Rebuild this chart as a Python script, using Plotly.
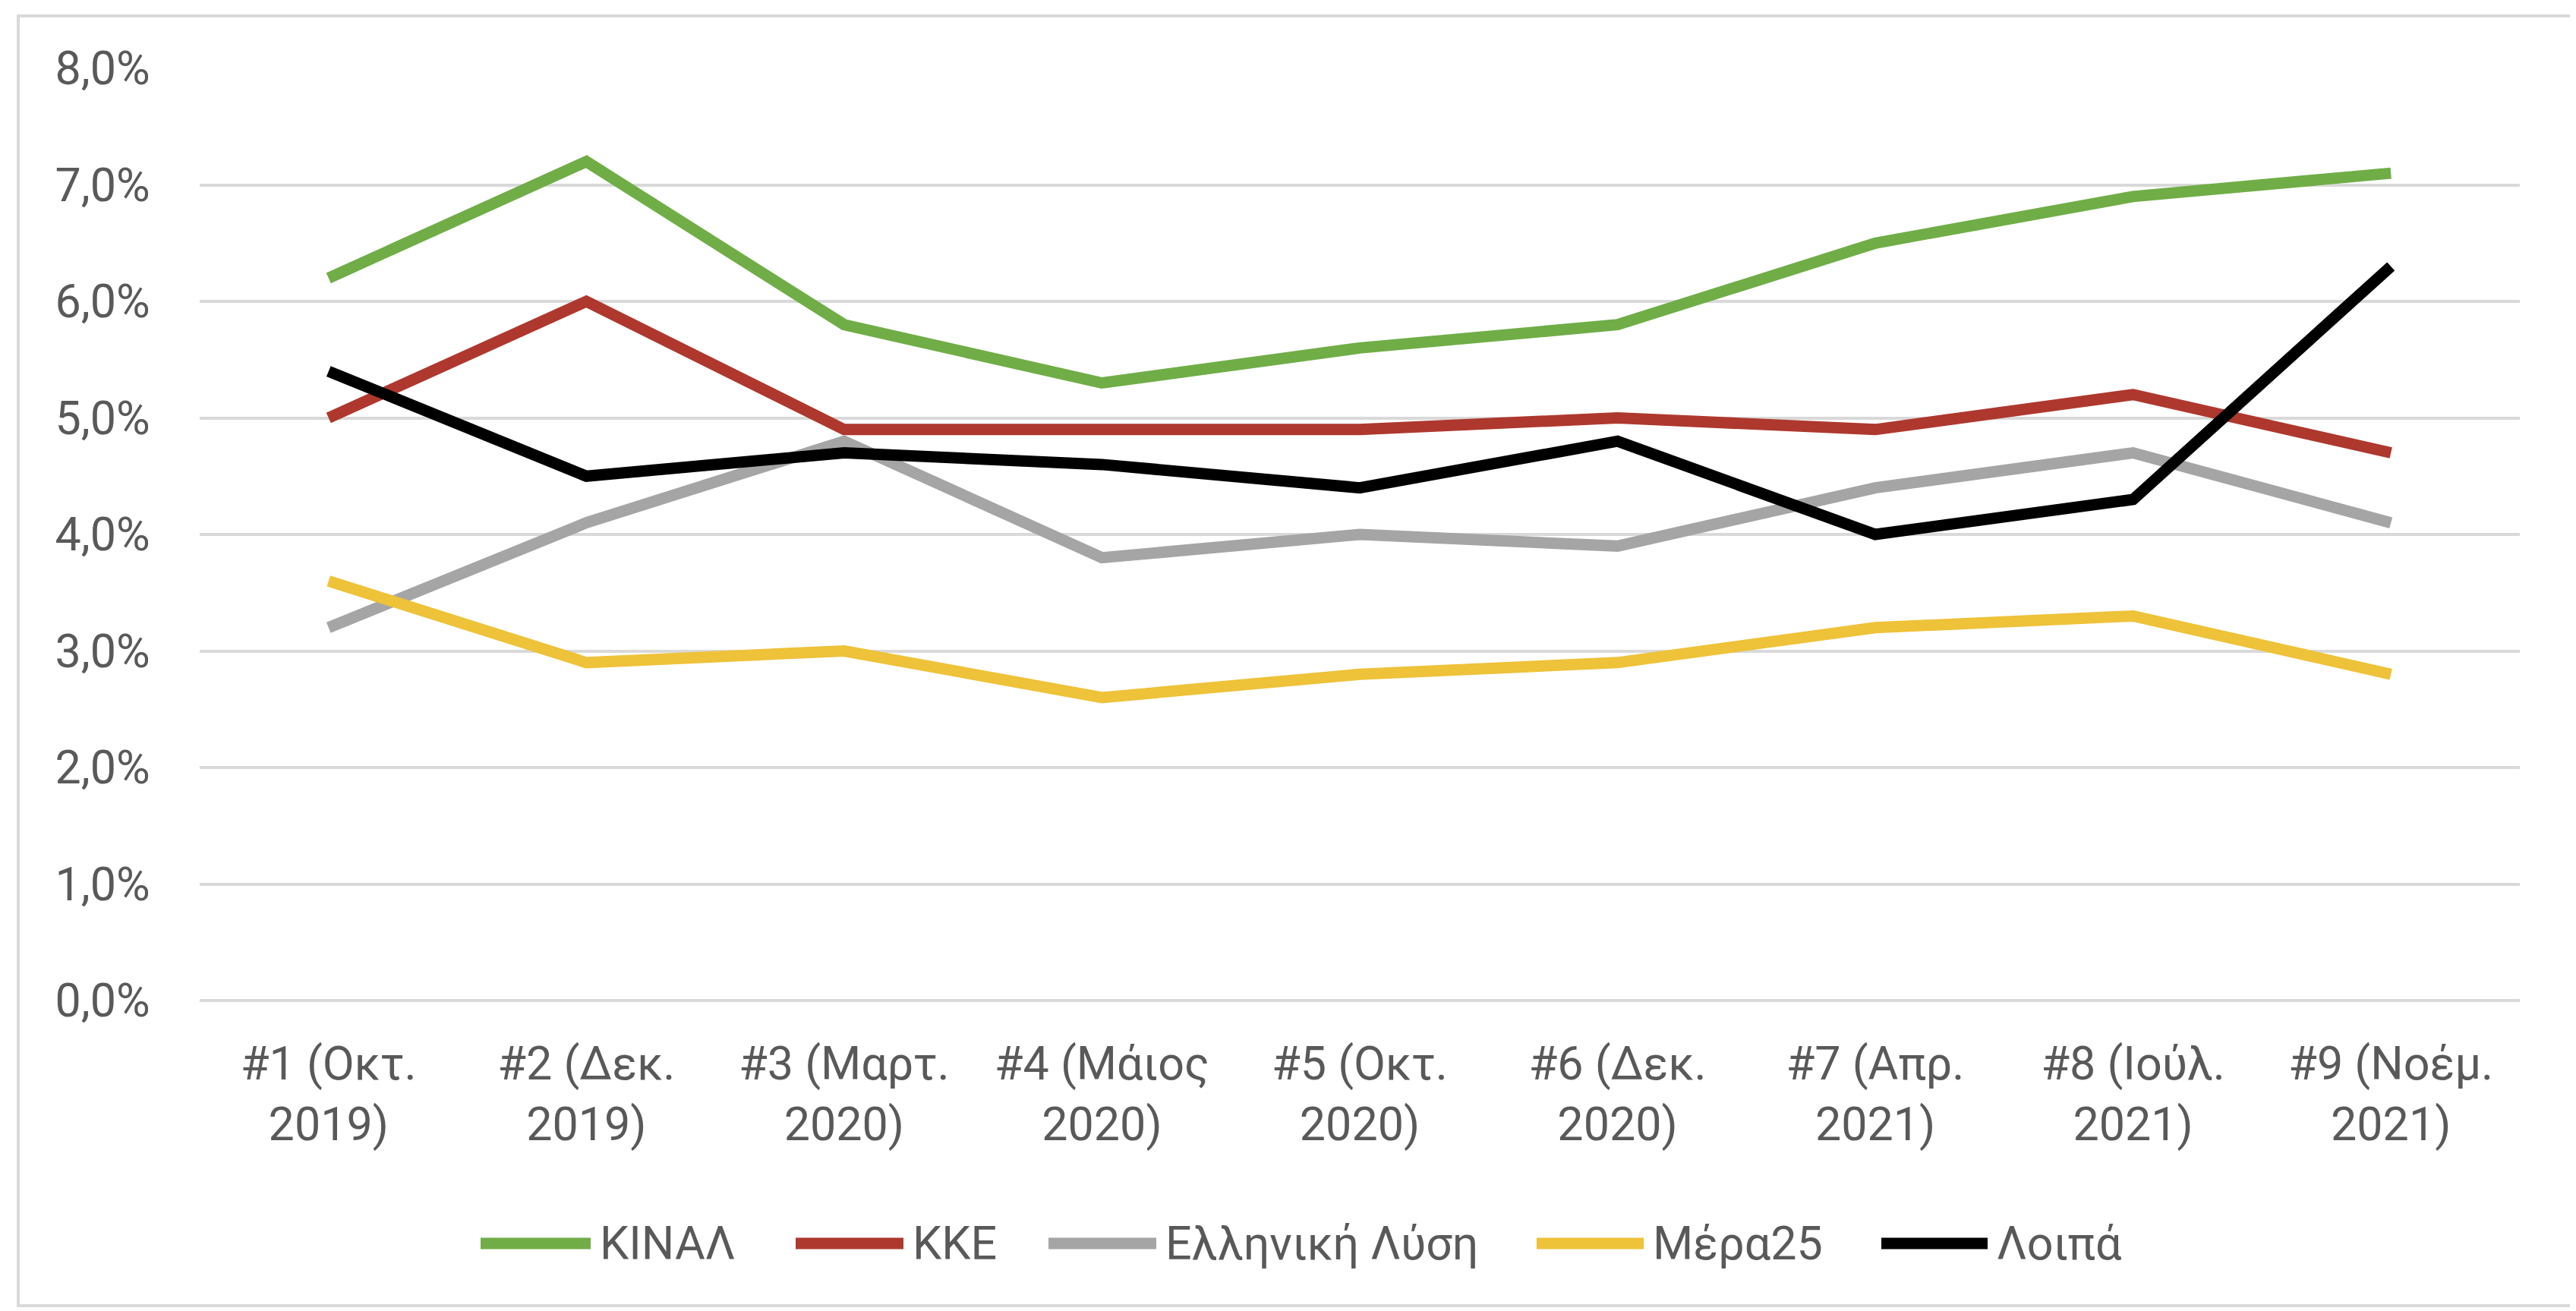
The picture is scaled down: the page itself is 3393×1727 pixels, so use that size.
import plotly.graph_objects as go

categories = ["#1 (Οκτ.<br>2019)", "#2 (Δεκ.<br>2019)", "#3 (Μαρτ.<br>2020)",
              "#4 (Μάιος<br>2020)", "#5 (Οκτ.<br>2020)", "#6 (Δεκ.<br>2020)",
              "#7 (Απρ.<br>2021)", "#8 (Ιούλ.<br>2021)", "#9 (Νοέμ.<br>2021)"]

kinal = [6.2, 7.2, 5.8, 5.3, 5.6, 5.8, 6.5, 6.9, 7.1]
kke = [5.0, 6.0, 4.9, 4.9, 4.9, 5.0, 4.9, 5.2, 4.7]
elliniki_lysi = [3.2, 4.1, 4.8, 3.8, 4.0, 3.9, 4.4, 4.7, 4.1]
mera25 = [3.6, 2.9, 3.0, 2.6, 2.8, 2.9, 3.2, 3.3, 2.8]
loipa = [5.4, 4.5, 4.7, 4.6, 4.4, 4.8, 4.0, 4.3, 6.3]

series_names = ["ΚΙΝΑΛ", "ΚΚΕ", "Ελληνική Λύση", "Μέρα25", "Λοιπά"]
series_values = [kinal, kke, elliniki_lysi, mera25, loipa]
series_colors = ["#70AD47", "#AE382E", "#A5A5A5", "#EEC239", "#000000"]

W, H = 3393, 1727
L, R, T, B = 255, 3311, 82, 1310  # plot area in px
FONT = "Roboto, Open Sans, sans-serif"
TXT = "#595959"
FS = 61


def px_x(px):
    return (px - L) / (R - L)


def px_y(py):
    return (B - py) / (B - T)


fig = go.Figure()
for name, vals, col in zip(series_names, series_values, series_colors):
    fig.add_trace(go.Scatter(x=categories, y=vals, name=name, mode="lines",
                             line=dict(color=col, width=15), showlegend=False))

shapes = []
annotations = []
# outer chart border
shapes.append(dict(type="rect", xref="paper", yref="paper",
                   x0=px_x(16), x1=px_x(3382), y0=px_y(1712), y1=px_y(13),
                   line=dict(color="#D9D9D9", width=4), fillcolor="rgba(0,0,0,0)", layer="below"))

# manual legend (long line samples like the original)
legend_lines = [(625, 770), (1040, 1182), (1373, 1515), (2016, 2157), (2470, 2610)]
ly = px_y(1630)
for (a, b), name, col in zip(legend_lines, series_names, series_colors):
    shapes.append(dict(type="line", xref="paper", yref="paper",
                       x0=px_x(a), x1=px_x(b), y0=ly, y1=ly,
                       line=dict(color=col, width=15)))
    annotations.append(dict(xref="paper", yref="paper", x=px_x(b + 10), y=ly,
                            text=name, showarrow=False, xanchor="left", yanchor="middle",
                            font=dict(family=FONT, size=FS, color=TXT)))

fig.update_layout(
    width=W, height=H,
    margin=dict(l=L, r=W - R, t=T, b=H - B),
    paper_bgcolor="white", plot_bgcolor="white",
    separators=",.",
    font=dict(family=FONT, size=FS, color=TXT),
    shapes=shapes, annotations=annotations,
    showlegend=False,
)
fig.update_xaxes(type="category", range=[-0.5, 8.5], showgrid=False, zeroline=False,
                 showline=False, ticks="outside", ticklen=30, tickcolor="rgba(0,0,0,0)",
                 tickfont=dict(family=FONT, size=FS, color=TXT))
fig.update_yaxes(range=[0, 8], dtick=1, tick0=0, tickformat=".1f", ticksuffix="%",
                 showgrid=True, gridcolor="#D9D9D9", gridwidth=4,
                 zeroline=True, zerolinecolor="#D9D9D9", zerolinewidth=4,
                 showline=False, ticks="outside", ticklen=52, tickcolor="rgba(0,0,0,0)",
                 tickfont=dict(family=FONT, size=FS, color=TXT))

fig.write_html("out.html")
